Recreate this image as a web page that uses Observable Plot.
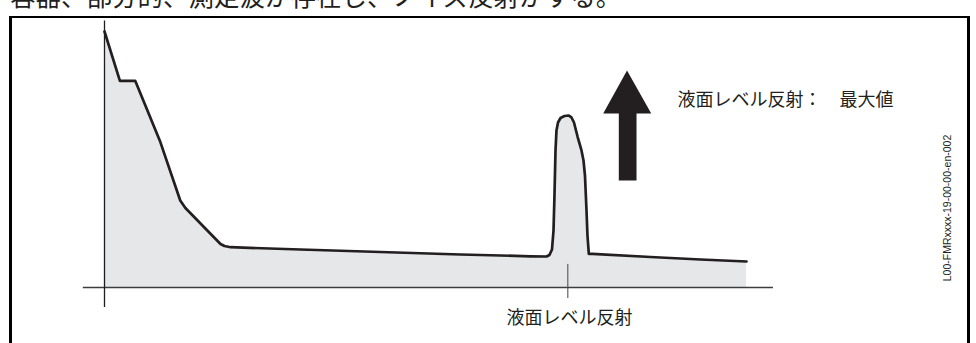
<!DOCTYPE html>
<html>
<head>
<meta charset="utf-8">
<script src="https://cdn.jsdelivr.net/npm/d3@7"></script>
<script src="https://cdn.jsdelivr.net/npm/@observablehq/plot@0.6"></script>
<style>
  html, body { margin: 0; padding: 0; background: #fff; }
  #wrap { position: relative; width: 976px; height: 343px; overflow: hidden; background: #fff; }
  #chart { position: absolute; left: 0; top: 0; }
  #title { position: absolute; left: 10px; top: -18px; font: 25.5px "Noto Sans CJK JP", sans-serif; line-height: 1; color: #231f20; white-space: nowrap; }
  #frame { position: absolute; left: 9px; top: 16px; width: 961px; height: 400px; box-sizing: border-box;
           border-left: 3px solid #000; border-top: 2px solid #000; border-right: 3px solid #000; pointer-events: none; }
</style>
</head>
<body>
<div id="wrap">
  <div id="chart"></div>
  <div id="title"></div>
  <div id="frame"></div>
</div>
<script>
// Echo curve: distance (relative, 0..100) and amplitude (relative, 0..100)
const signalDistance = [0, 2.4, 4.8, 8.7, 11.8, 12.6, 18.07, 18.69, 19.63, 30.53, 42.99, 55.45, 66.36, 68.85,
  69.31, 69.70, 69.94, 70.09, 70.25, 70.40, 70.64, 71.03, 71.65, 72.27, 72.74, 73.13, 73.68, 74.30, 74.61,
  74.84, 75.08, 75.23, 75.44, 75.96, 85.05, 92.83, 100];
const signalAmplitude = [100, 80.7, 80.7, 56.8, 34.0, 31.05, 17.0, 16.2, 15.74, 14.84, 13.87, 12.89, 12.19, 12.11,
  12.70, 14.84, 22.27, 35.94, 53.52, 61.33, 64.45, 66.21, 66.99, 67.19, 66.41, 64.45, 58.98, 53.52, 49.61,
  43.75, 30.08, 20.31, 13.16, 13.16, 11.91, 10.94, 10.16];

// Level echo position
const levelEchoDistance = [72.17];

// Block arrow outline ("maximum" indicator)
const arrowX = [81.39, 85.16, 82.87, 82.87, 80.11, 80.11, 77.68];
const arrowY = [84.77, 67.97, 67.97, 41.80, 41.80, 67.97, 67.97];

// Texts
const titleText = "容器、部分的、測定波が存在し、ノイズ反射がする。";
const levelEchoLabel = "液面レベル反射";
const maxLabel = "液面レベル反射：　最大値";
const docId = "L00-FMRxxxx-19-00-00-en-002";

const signal = signalDistance.map((d, i) => ({d, a: signalAmplitude[i]}));
const arrow = arrowX.map((x, i) => ({x, y: arrowY[i]}));

document.getElementById("title").textContent = titleText;

const ink = "#231f20";
const jp = "'Noto Sans CJK JP', sans-serif";

const chart = Plot.plot({
  width: 976,
  height: 343,
  marginLeft: 104,
  marginRight: 230,
  marginTop: 31,
  marginBottom: 56,
  style: {background: "transparent", overflow: "visible"},
  x: {domain: [0, 100], axis: null},
  y: {domain: [0, 100], axis: null},
  marks: [
    Plot.areaY(signal, {x: "d", y: "a", fill: "#e6e7e8"}),
    Plot.ruleY([0], {x1: -3.3, x2: 104.2, stroke: "#3d3d3d", strokeWidth: 1.6}),
    Plot.ruleX([0], {y1: -7.8, y2: 104.1, stroke: "#1e1e1e", strokeWidth: 1.3}),
    Plot.ruleX(levelEchoDistance, {x: d => d, y1: -4.3, y2: 9.0, stroke: "#444", strokeWidth: 1}),
    Plot.line(signal, {x: "d", y: "a", stroke: ink, strokeWidth: 2.7, strokeLinejoin: "round", strokeLinecap: "round"}),
    Plot.line(arrow, {x: "x", y: "y", fill: ink, stroke: "none"}),
    Plot.text([maxLabel], {x: 89.25, y: 73.05, text: d => d, textAnchor: "start", fontSize: 18, fontFamily: jp, fill: ink}),
    Plot.text([levelEchoLabel], {x: 72.43, y: -11.9, text: d => d, textAnchor: "middle", fontSize: 18, fontFamily: jp, fill: ink}),
    Plot.text([docId], {x: 131.26, y: 31.05, text: d => d, rotate: -90, fontSize: 10.5, fontFamily: "'Liberation Sans', Arial, sans-serif", fill: ink})
  ]
});
document.getElementById("chart").appendChild(chart);
</script>
</body>
</html>
